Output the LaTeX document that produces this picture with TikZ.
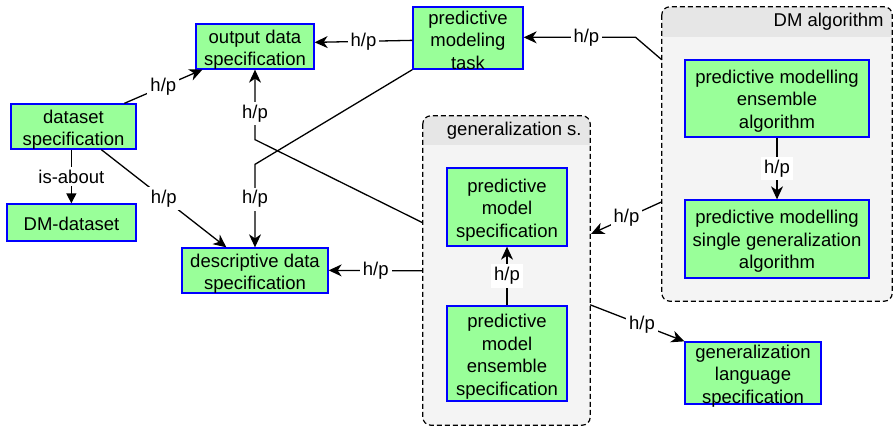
\documentclass[tikz,border=0pt]{standalone}
\usepackage{fontspec}
\setmainfont{Liberation Sans}
\usetikzlibrary{arrows.meta,calc}
\definecolor{boxgreen}{HTML}{99FF99}
\definecolor{boxblue}{HTML}{0000FF}
\definecolor{grpbody}{HTML}{F4F4F4}
\definecolor{grphead}{HTML}{E6E6E6}
\begin{document}
\begin{tikzpicture}[x=1pt,y=-1pt,
  every node/.style={font=\fontsize{18.5}{22.5}\selectfont},
  box/.style={draw=boxblue,fill=boxgreen,line width=1.3pt,inner sep=0pt,rectangle},
  boxtxt/.style={align=center,inner sep=0pt},
  grp/.style={fill=grpbody,inner sep=0pt,rectangle,rounded corners=8pt},
  grpline/.style={draw=black,line width=1.2pt,dash pattern=on 5pt off 3pt,rounded corners=8pt},
  arr/.style={draw=black,line width=1.3pt,-{Stealth[length=13pt,width=12pt,inset=4pt]}},
  tri/.style={draw=black,line width=1.3pt,-{Triangle[length=10pt,width=10pt]}},
  lbl/.style={fill=white,inner xsep=3pt,inner ysep=3pt}]
\useasboundingbox (0,0) rectangle (893,428);

% containers
\node[grp,minimum width=230pt,minimum height=294pt] (dmalg) at (777,154) {};
\begin{scope}
  \clip[rounded corners=8pt] (dmalg.north west) rectangle (dmalg.south east);
  \fill[grphead] (dmalg.north west) rectangle ($(dmalg.north east)+(0,30)$);
\end{scope}
\draw[grpline] (dmalg.north west) rectangle (dmalg.south east);
\node[anchor=east] (dmalglbl) at ($(dmalg.north east)+(-5,15)$) {DM algorithm};

\node[grp,minimum width=167pt,minimum height=309pt] (gen) at (506.5,270.5) {};
\begin{scope}
  \clip[rounded corners=8pt] (gen.north west) rectangle (gen.south east);
  \fill[grphead] (gen.north west) rectangle ($(gen.north east)+(0,29)$);
\end{scope}
\draw[grpline] (gen.north west) rectangle (gen.south east);
\node[anchor=east] (genlbl) at ($(gen.north east)+(-5,15)$) {generalization s.};

% boxes
\node[box,minimum width=118pt,minimum height=45pt] (out) at (255,46.5) {};
\node[boxtxt] (outt) at ($(out)+(0,3)$) {output data\\specification};
\node[box,minimum width=110pt,minimum height=62pt] (task) at (468,38) {};
\node[boxtxt] (taskt) at ($(task)+(0,2)$) {predictive\\modeling\\task};
\node[box,minimum width=125pt,minimum height=45pt] (ds) at (73.5,126.5) {};
\node[boxtxt] (dst) at ($(ds)+(0,3)$) {dataset\\specification};
\node[box,minimum width=129pt,minimum height=37pt] (dmd) at (71.5,222.5) {};
\node[boxtxt] (dmdt) at ($(dmd)+(0,1.5)$) {DM-dataset};
\node[box,minimum width=146pt,minimum height=45pt] (desc) at (255,270.5) {};
\node[boxtxt] (desct) at ($(desc)+(0,3)$) {descriptive data\\specification};
\node[box,minimum width=184pt,minimum height=77pt] (pmea) at (777,98.5) {};
\node[boxtxt] (pmeat) at ($(pmea)+(0,2.5)$) {predictive modelling\\ensemble\\algorithm};
\node[box,minimum width=184pt,minimum height=78pt] (pmsga) at (777,239) {};
\node[boxtxt] (pmsgat) at ($(pmsga)+(0,2.5)$) {predictive modelling\\single generalization\\algorithm};
\node[box,minimum width=120pt,minimum height=78pt] (pms) at (507,207) {};
\node[boxtxt] (pmst) at ($(pms)+(0,3)$) {predictive\\model\\specification};
\node[box,minimum width=120pt,minimum height=95pt] (pmes) at (507,353.5) {};
\node[boxtxt] (pmest) at ($(pmes)+(0,3)$) {predictive\\model\\ensemble\\specification};
\node[box,minimum width=136pt,minimum height=62pt] (gls) at (753,373) {};
\node[boxtxt] (glst) at ($(gls)+(0,3)$) {generalization\\language\\specification};

% connectors
\draw[arr] ($(task.north west)+(0,34)$) -- node[lbl]{h/p} ($(out.north east)+(0,19)$);
\draw[arr] ($(ds.north west)+(114,0)$) -- node[lbl]{h/p} ($(out.south west)+(7,0)$);
\draw[arr] ($(dmalg.north west)+(0,53)$) -- ($(task.north east)+(112,31)$) -- node[lbl,pos=0.44]{h/p} ($(task.north east)+(0,31)$);
\draw[tri] ($(ds.south west)+(61,0)$) -- node[lbl]{is-about} ($(dmd.north west)+(65,0)$);
\draw[arr] ($(ds.south west)+(91,0)$) -- node[lbl]{h/p} ($(desc.north west)+(45,0)$);
\draw[arr] (task.south west) -- ($(desc.north)+(0,-83)$) -- node[lbl,pos=0.42]{h/p} (desc.north);
\draw[arr] ($(gen.north west)+(0,107)$) -- ($(out.south)+(0,70)$) -- node[lbl,pos=0.37]{h/p} (out.south);
\draw[arr] ($(gen.north west)+(0,155)$) -- node[lbl]{h/p} ($(desc.north east)+(0,23)$);
\draw[arr] ($(dmalg.north west)+(0,195)$) -- node[lbl]{h/p} ($(gen.north east)+(1,118)$);
\draw[arr] ($(gen.north east)+(0,189)$) -- node[lbl,pos=0.55]{h/p} (gls.north west);
\draw[arr] (pmea.south) -- node[lbl]{h/p} (pmsga.north);
\draw[arr] (pmes.north) -- node[lbl]{h/p} (pms.south);
\end{tikzpicture}
\end{document}
